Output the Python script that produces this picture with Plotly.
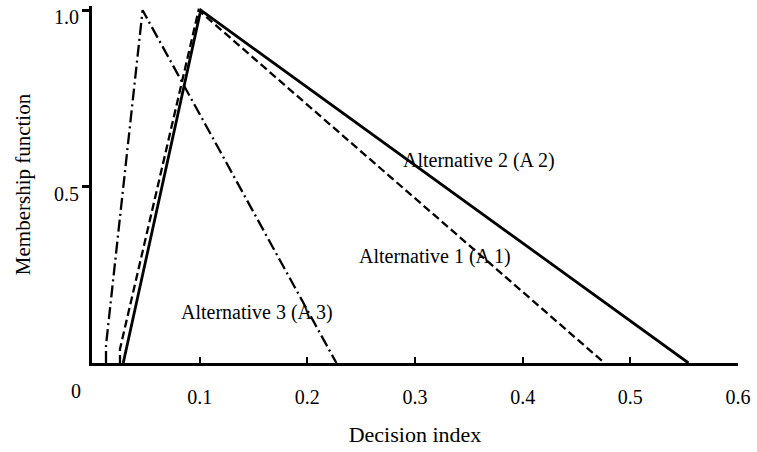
import plotly.graph_objects as go

# Data
a1_x = [0.026, 0.026, 0.099, 0.476]
a1_y = [0.0, 0.04, 1.0, 0.0]
a2_x = [0.029, 0.101, 0.554]
a2_y = [0.0, 1.0, 0.0]
a3_x = [0.013, 0.013, 0.047, 0.227]
a3_y = [0.0, 0.05, 1.0, 0.0]

x_ticks = [0.1, 0.2, 0.3, 0.4, 0.5, 0.6]
x_ticklabels = ["0.1", "0.2", "0.3", "0.4", "0.5", "0.6"]
y_ticks = [0.5, 1.0]
y_ticklabels = ["0.5", "1.0"]

labels = ["Alternative 2 (A 2)", "Alternative 1 (A 1)", "Alternative 3 (A 3)"]
label_x = [0.359, 0.319, 0.153]
label_y = [0.575, 0.303, 0.142]

FONT = "Liberation Serif, Times New Roman, serif"

fig = go.Figure()
fig.add_trace(go.Scatter(x=a1_x, y=a1_y, mode="lines",
                         line=dict(color="black", width=2.3, dash="8px,4px"),
                         name="A 1", showlegend=False))
fig.add_trace(go.Scatter(x=a2_x, y=a2_y, mode="lines",
                         line=dict(color="black", width=2.8),
                         name="A 2", showlegend=False))
fig.add_trace(go.Scatter(x=a3_x, y=a3_y, mode="lines",
                         line=dict(color="black", width=2.3, dash="12px,4px,2px,4px"),
                         name="A 3", showlegend=False))

for t, x, y in zip(labels, label_x, label_y):
    fig.add_annotation(x=x, y=y, text=t, showarrow=False,
                       font=dict(family=FONT, size=20, color="black"))

# "0" label at the origin, offset to the left as in the reference
fig.add_annotation(x=0, y=0, text="0", showarrow=False,
                   xshift=-16, yshift=-28,
                   font=dict(family=FONT, size=20, color="black"))

# y tick labels (drawn slightly below their ticks, as in the reference)
for v, t in zip(y_ticks, y_ticklabels):
    fig.add_annotation(x=0, y=v, text=t, showarrow=False,
                       xanchor="right", xshift=-11, yshift=-7,
                       font=dict(family=FONT, size=20, color="black"))

fig.update_layout(
    width=757, height=452,
    margin=dict(l=92, r=15, t=6, b=89),
    plot_bgcolor="white", paper_bgcolor="white",
    font=dict(family=FONT, size=20, color="black"),
    xaxis=dict(range=[0, 0.6], showgrid=False, zeroline=False,
               showline=True, linecolor="black", linewidth=3,
               ticks="inside", ticklen=6, tickwidth=2, tickcolor="black",
               tickvals=x_ticks, ticktext=x_ticklabels,
               ticklabelstandoff=14,
               tickfont=dict(family=FONT, size=20),
               title=dict(text="Decision index", standoff=20,
                          font=dict(family=FONT, size=22))),
    yaxis=dict(range=[0, 1.012], showgrid=False, zeroline=False,
               showline=True, linecolor="black", linewidth=3,
               ticks="outside", ticklen=7, tickwidth=3, tickcolor="black",
               tickvals=y_ticks, showticklabels=False,
               title=dict(text="Membership function", standoff=46,
                          font=dict(family=FONT, size=21))),
)

fig.write_html("out.html", config={"displayModeBar": False},
               post_script="document.body.style.margin='0';")
